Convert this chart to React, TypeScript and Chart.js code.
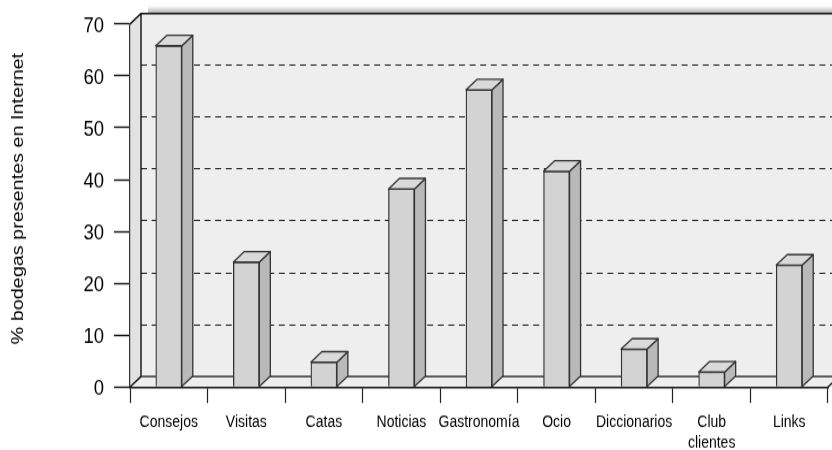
import React, { useEffect, useRef } from "react";
import { Chart, registerables } from "chart.js";

Chart.register(...registerables);

const categories: (string | string[])[] = ["Consejos", "Visitas", "Catas", "Noticias", "Gastronomía", "Ocio", "Diccionarios", ["Club", "clientes"], "Links"];
const values = [65.8, 24.1, 4.8, 38.2, 57.3, 41.6, 7.3, 2.9, 23.5];
const yTicks = [0, 10, 20, 30, 40, 50, 60, 70];
const yTitle = "% bodegas presentes en Internet";

const FONT = "'Liberation Sans', Arial, sans-serif";
const RENDER_H = 391; // drawn shorter, then stretched to 450 like the reference
const DX = 11;
const DY = 9.13;

const walls = {
  id: "walls",
  beforeDraw(chart: any) {
    const { ctx, chartArea: a, scales } = chart;
    const yS = scales.y;
    ctx.save();
    const g = ctx.createLinearGradient(0, a.top - DY - 7, 0, a.top - DY);
    g.addColorStop(0, "rgba(150,150,150,0)");
    g.addColorStop(1, "rgba(90,90,90,0.55)");
    ctx.fillStyle = g;
    ctx.fillRect(a.left + DX + 7, a.top - DY - 7, chart.width, 7);
    ctx.fillStyle = "#eeeeee";
    ctx.fillRect(a.left + DX, a.top - DY, chart.width, a.bottom - a.top);
    ctx.fillStyle = "#e2e2e2";
    ctx.beginPath();
    ctx.moveTo(a.left, a.top);
    ctx.lineTo(a.left + DX, a.top - DY);
    ctx.lineTo(a.left + DX, a.bottom - DY);
    ctx.lineTo(a.left, a.bottom);
    ctx.closePath();
    ctx.fill();
    ctx.fillStyle = "#eeeeee";
    ctx.beginPath();
    ctx.moveTo(a.left, a.bottom);
    ctx.lineTo(a.left + DX, a.bottom - DY);
    ctx.lineTo(chart.width, a.bottom - DY);
    ctx.lineTo(chart.width, a.bottom);
    ctx.closePath();
    ctx.fill();
    ctx.strokeStyle = "#000";
    ctx.lineWidth = 0.9;
    ctx.setLineDash([6, 4.6]);
    for (const v of yTicks) {
      if (v === 0 || v === 70) continue;
      const y = Math.round(yS.getPixelForValue(v) - DY - 0.5) + 0.5;
      ctx.beginPath();
      ctx.moveTo(a.left + DX, y);
      ctx.lineTo(chart.width, y);
      ctx.stroke();
    }
    ctx.setLineDash([]);
    ctx.strokeStyle = "#111";
    ctx.lineWidth = 1.4;
    ctx.beginPath();
    ctx.moveTo(a.left, a.top);
    ctx.lineTo(a.left + DX, a.top - DY);
    ctx.lineTo(chart.width, a.top - DY);
    ctx.moveTo(a.left + DX, a.top - DY);
    ctx.lineTo(a.left + DX, a.bottom - DY);
    ctx.lineTo(chart.width, a.bottom - DY);
    ctx.moveTo(a.left + DX, a.bottom - DY);
    ctx.lineTo(a.left, a.bottom);
    ctx.moveTo(a.right, a.bottom);
    ctx.lineTo(a.right + DX, a.bottom - DY);
    ctx.stroke();
    ctx.restore();
  },
};

const faces = {
  id: "faces",
  afterDatasetsDraw(chart: any) {
    const { ctx } = chart;
    ctx.save();
    ctx.strokeStyle = "#333";
    ctx.lineWidth = 1.3;
    ctx.lineJoin = "round";
    for (const bar of chart.getDatasetMeta(0).data) {
      const { x, y, base, width } = bar.getProps(["x", "y", "base", "width"], true);
      const l = x - width / 2;
      const r = x + width / 2;
      ctx.fillStyle = "#b9b9b9";
      ctx.beginPath();
      ctx.moveTo(r, y);
      ctx.lineTo(r + DX, y - DY);
      ctx.lineTo(r + DX, base - DY);
      ctx.lineTo(r, base);
      ctx.closePath();
      ctx.fill();
      ctx.stroke();
      ctx.fillStyle = "#dadada";
      ctx.beginPath();
      ctx.moveTo(l, y);
      ctx.lineTo(l + DX, y - DY);
      ctx.lineTo(r + DX, y - DY);
      ctx.lineTo(r, y);
      ctx.closePath();
      ctx.fill();
      ctx.stroke();
    }
    ctx.restore();
  },
};

const axisTitle = {
  id: "axisTitle",
  afterDraw(chart: any) {
    const { ctx, chartArea: a } = chart;
    ctx.save();
    ctx.translate(18, (a.top + a.bottom) / 2 - 6);
    ctx.rotate(-Math.PI / 2);
    ctx.font = `17.2px ${FONT}`;
    ctx.fillStyle = "#000";
    ctx.textAlign = "center";
    ctx.textBaseline = "middle";
    ctx.fillText(yTitle, 0, 0);
    ctx.restore();
  },
};

export default function App() {
  const ref = useRef<HTMLCanvasElement>(null);
  useEffect(() => {
    const chart = new Chart(ref.current!, {
      type: "bar",
      data: {
        labels: categories as any,
        datasets: [{ data: values, backgroundColor: "#d3d3d3", borderColor: "#333", borderWidth: 1.3, barThickness: 26 }],
      },
      plugins: [walls, faces, axisTitle],
      options: {
        responsive: false,
        animation: false,
        devicePixelRatio: 1,
        layout: { padding: { top: 20.85, right: 4, left: 0, bottom: 0 } },
        plugins: { legend: { display: false }, tooltip: { enabled: false } },
        scales: {
          x: {
            offset: true,
            grid: { offset: true, drawOnChartArea: false, drawTicks: true, tickLength: 13.9, tickWidth: 1.2, tickColor: "#222" },
            border: { display: true, color: "#111", width: 1.4, z: 1 },
            ticks: {
              autoSkip: false,
              maxRotation: 0,
              minRotation: 0,
              color: "#000",
              padding: 8,
              font: { family: FONT, size: 14, lineHeight: 1.3 },
            },
            afterFit: (s: any) => { s.height = 54.74; },
          },
          y: {
            min: 0,
            max: 70,
            grid: { drawOnChartArea: false, tickLength: 16, tickWidth: 1.4, tickColor: "#111" },
            border: { display: true, color: "#333", width: 1.2 },
            ticks: {
              stepSize: 10,
              color: "#000",
              padding: 10,
              font: { family: FONT, size: 18.5, lineHeight: 0.22 },
              callback: (v: any) => ["", String(v)],
            },
            afterFit: (s: any) => { s.width = 130; },
          },
        },
      },
    } as any);
    return () => chart.destroy();
  }, []);
  return (
    <canvas
      ref={ref}
      width={832}
      height={RENDER_H}
      style={{ position: "absolute", left: 0, top: 0, width: 832, height: 450 }}
    />
  );
}
